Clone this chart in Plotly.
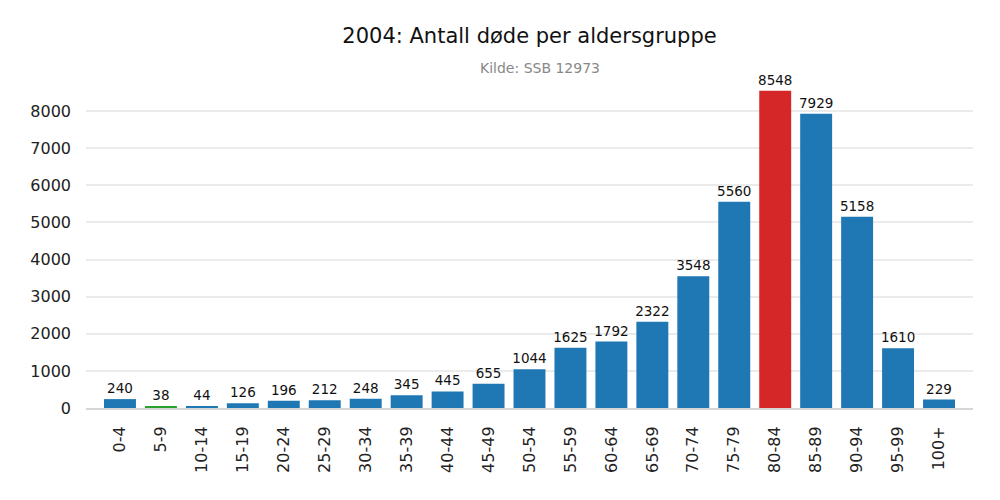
import plotly.graph_objects as go

categories = ["0-4", "5-9", "10-14", "15-19", "20-24", "25-29", "30-34", "35-39",
              "40-44", "45-49", "50-54", "55-59", "60-64", "65-69", "70-74", "75-79",
              "80-84", "85-89", "90-94", "95-99", "100+"]
values = [240, 38, 44, 126, 196, 212, 248, 345, 445, 655, 1044, 1625, 1792, 2322,
          3548, 5560, 8548, 7929, 5158, 1610, 229]
y_ticks = [0, 1000, 2000, 3000, 4000, 5000, 6000, 7000, 8000]

BLUE, RED, GREEN = "#1f77b4", "#d62728", "#2ca02c"
vmax, vmin = max(values), min(values)
colors = [RED if v == vmax else GREEN if v == vmin else BLUE for v in values]

FONT = "DejaVu Sans"

fig = go.Figure(go.Bar(
    x=list(range(len(categories))),
    y=values,
    width=0.78,
    marker=dict(color=colors, line=dict(width=0)),
    text=[str(v) for v in values],
    textposition="outside",
    textfont=dict(family=FONT, size=13.5, color="#111111"),
    constraintext="none",
    cliponaxis=False,
))

fig.update_layout(
    width=1000, height=500,
    margin=dict(l=86, r=27, t=75, b=92),
    paper_bgcolor="white", plot_bgcolor="white",
    font=dict(family=FONT, color="#222222"),
    showlegend=False,
    title=dict(
        text="2004: Antall døde per aldersgruppe",
        x=0.5, xanchor="center", xref="paper",
        y=1 - 36 / 500, yanchor="middle", yref="container",
        font=dict(family=FONT, size=21, color="#111111"),
    ),
    annotations=[dict(
        text="Kilde: SSB 12973",
        x=0.512, xref="paper", xanchor="center",
        y=1 + 7 / 333, yref="paper", yanchor="middle",
        showarrow=False,
        font=dict(family=FONT, size=14, color="#888888"),
    )],
)

fig.update_xaxes(
    range=[-0.83, len(categories) - 1 + 0.83],
    tickmode="array",
    tickvals=list(range(len(categories))),
    ticktext=categories,
    tickangle=-90,
    tickfont=dict(family=FONT, size=16, color="#222222"),
    showgrid=False,
    zeroline=False,
    showline=True, linecolor="#d6d6d6", linewidth=2,
    ticks="", ticklabelstandoff=10,
)
fig.update_yaxes(
    range=[0, vmax * 1.05],
    tickmode="array",
    tickvals=y_ticks,
    tickfont=dict(family=FONT, size=16, color="#222222"),
    showgrid=True, gridcolor="#ebebeb", gridwidth=2,
    zeroline=False, showline=False,
    ticks="", ticklabelstandoff=14,
)

fig.write_html("out.html")
